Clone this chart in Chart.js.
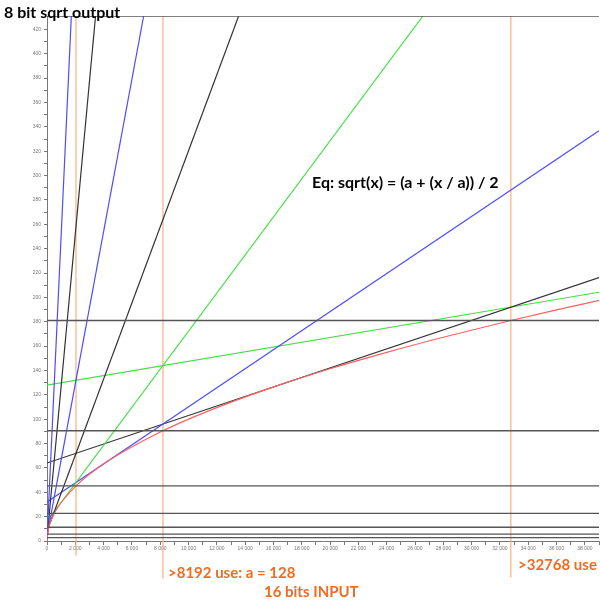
<!DOCTYPE html>
<html>
<head>
<meta charset="utf-8">
<script src="https://cdn.jsdelivr.net/npm/chart.js@4"></script>
<style>
    html, body { margin: 0; padding: 0; background: #fff; overflow: hidden; }
    #caixa { position: relative; width: 600px; height: 600px; }
    #grafico { position: absolute; left: 0; top: 0; }
    .rotulo { position: absolute; font-family: Lato, 'Open Sans', sans-serif; font-weight: bold; white-space: nowrap; line-height: 1; }
    .laranja { color: #f26b21; }
</style>
</head>
<body>
<div id="caixa">
    <canvas id="grafico" width="600" height="600"></canvas>
    <div class="rotulo" style="left:4px; top:4px; font-size:16px; color:#000;">8 bit sqrt output</div>
    <div class="rotulo" style="left:312px; top:174px; font-size:16px; color:#000;">Eq: sqrt(x) = (a + (x / a)) / 2</div>
    <div class="rotulo laranja" style="left:168px; top:565px; font-size:15px;">&gt;8192 use: a = 128</div>
    <div class="rotulo laranja" style="left:264px; top:584px; font-size:15px;">16 bits INPUT</div>
    <div class="rotulo laranja" style="left:518px; top:557px; font-size:15px;">&gt;32768 use</div>
</div>
<script>
// valores de a de cada reta tangente
const VALORES_A = [2, 4, 8, 16, 32, 64, 128, 256];
const CORES_RETAS = ['#4d4dff', '#333333', '#4d4dff', '#333333', '#44e044', '#4d4dff', '#333333', '#44e044'];
// ponto inicial (x = 0) e ponto final
const RETA_Y0 = [1, 2, 4, 8, 16, 32, 64, 128];
const RETA_X1 = [1720, 3430, 6830, 13540, 26560, 39000, 39000, 39000];
const RETA_Y1 = [431, 431, 431, 431, 431, 336.7, 216.3, 204.2];

// curva sqrt(x)
const CURVA_X = [0, 100, 250, 500, 1000, 2048, 4096, 8192, 12000, 16384, 20000, 24000, 28000, 32768, 36000, 39000];
const CURVA_Y = [0, 10, 15.8, 22.4, 31.6, 45.3, 64, 90.5, 109.5, 128, 141.4, 154.9, 167.3, 181, 189.7, 197.5];

// linhas horizontais (niveis)
const NIVEIS_Y = [431, 181, 90.5, 45.25, 22.6, 11.3, 5.66, 2.83];

// linhas verticais laranja
const MARCAS_X = [2048, 8192, 32768];
const MARCAS_FIM_Y = [-12, -31, -30];

const X_MAX = 39000;
const Y_MAX = 431;

function formatarMilhar(valor) {
    if (valor === 0) return '0';
    const texto = String(valor);
    return texto.slice(0, -3) + ' ' + texto.slice(-3);
}

const conjuntos = [];

NIVEIS_Y.forEach((nivel) => {
    conjuntos.push({
        data: [{ x: 0, y: nivel }, { x: X_MAX, y: nivel }],
        borderColor: '#555555',
        borderWidth: 1.3,
    });
});

conjuntos.push({
    data: CURVA_X.map((x, i) => ({ x, y: CURVA_Y[i] })),
    borderColor: '#ff6060',
    borderWidth: 1.2,
    cubicInterpolationMode: 'monotone',
});

VALORES_A.forEach((a, i) => {
    conjuntos.push({
        data: [{ x: 0, y: RETA_Y0[i] }, { x: RETA_X1[i], y: RETA_Y1[i] }],
        borderColor: CORES_RETAS[i],
        borderWidth: 1.2,
    });
});

MARCAS_X.forEach((x, i) => {
    conjuntos.push({
        data: [{ x, y: MARCAS_FIM_Y[i] }, { x, y: Y_MAX }],
        borderColor: 'rgba(250, 175, 125, 0.75)',
        borderWidth: 1.6,
        clip: false,
    });
});

conjuntos.forEach((c) => {
    c.showLine = true;
    c.pointRadius = 0;
    c.fill = false;
});

new Chart(document.getElementById('grafico'), {
    type: 'scatter',
    data: { datasets: conjuntos },
    options: {
        responsive: false,
        animation: false,
        events: [],
        layout: { padding: { top: 16, right: 0, left: 0, bottom: 0 } },
        plugins: { legend: { display: false }, tooltip: { enabled: false } },
        scales: {
            x: {
                type: 'linear',
                min: 0,
                max: X_MAX,
                afterFit: (escala) => { escala.height = 59; },
                afterBuildTicks: (escala) => {
                    escala.ticks = escala.ticks.filter((t) => t.value % 1000 === 0);
                },
                border: { color: '#777777', width: 1 },
                grid: { drawOnChartArea: false, tickLength: 4, color: '#777777' },
                ticks: {
                    stepSize: 1000,
                    autoSkip: false,
                    maxRotation: 0,
                    padding: 1,
                    color: '#777777',
                    font: { size: 5, family: 'Liberation Sans' },
                    callback: (valor) => (valor % 2000 === 0 ? formatarMilhar(valor) : ''),
                },
            },
            y: {
                type: 'linear',
                min: 0,
                max: Y_MAX,
                afterFit: (escala) => { escala.width = 47; },
                afterBuildTicks: (escala) => {
                    escala.ticks = escala.ticks.filter((t) => t.value % 10 === 0);
                },
                border: { color: '#777777', width: 1 },
                grid: { drawOnChartArea: false, tickLength: 3, color: '#777777' },
                ticks: {
                    stepSize: 10,
                    autoSkip: false,
                    padding: 3,
                    color: '#777777',
                    font: { size: 5, family: 'Liberation Sans' },
                    callback: (valor) => (valor % 20 === 0 ? String(valor) : ''),
                },
            },
        },
    },
});
</script>
</body>
</html>
